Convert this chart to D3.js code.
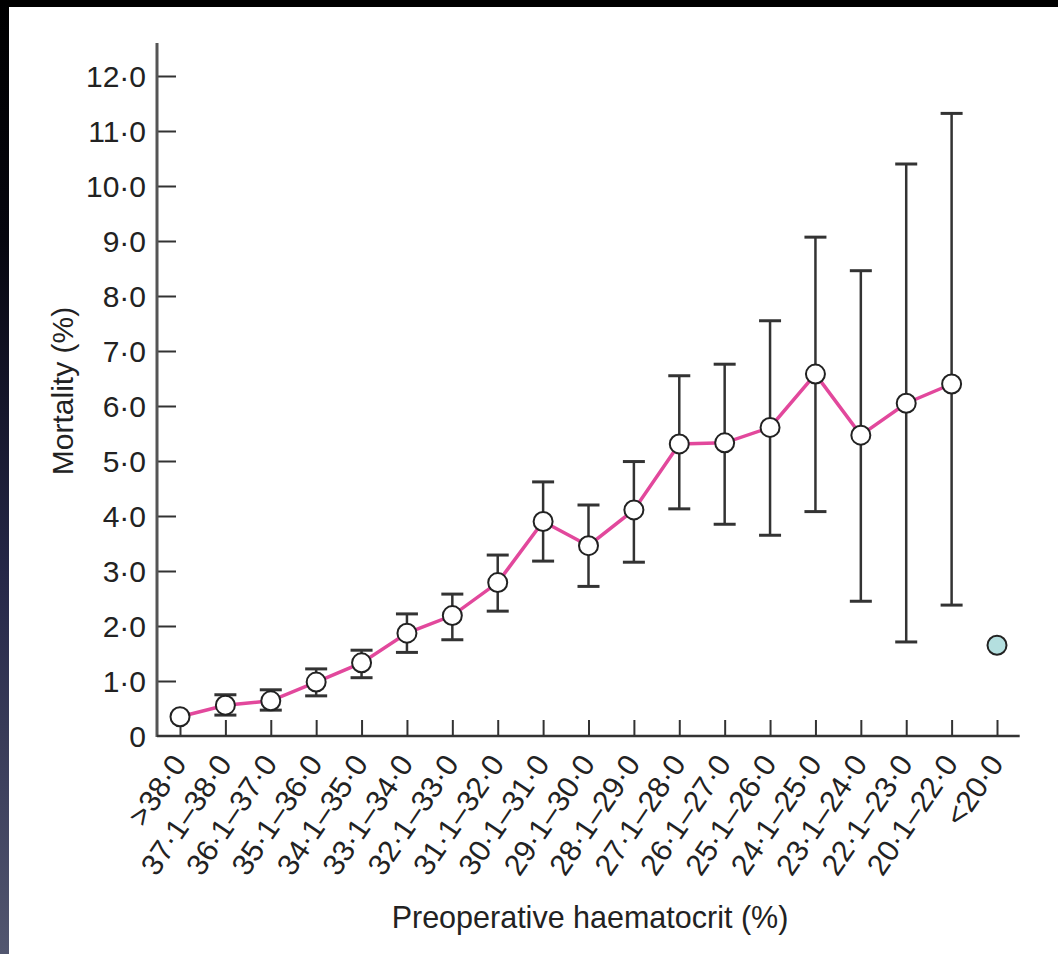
<!DOCTYPE html>
<html>
<head>
<meta charset="utf-8">
<script src="https://cdnjs.cloudflare.com/ajax/libs/d3/7.8.5/d3.min.js"></script>
<style>
  html, body { margin: 0; padding: 0; background: #000; }
  svg { display: block; }
  text { font-family: "Liberation Sans", Arial, Helvetica, sans-serif; fill: #222; }
</style>
</head>
<body>
<svg id="chart"></svg>
<script>
// haematocrit bands, left to right
var categories = [">38·0", "37·1–38·0", "36·1–37·0", "35·1–36·0", "34·1–35·0", "33·1–34·0",
  "32·1–33·0", "31·1–32·0", "30·1–31·0", "29·1–30·0", "28·1–29·0", "27·1–28·0",
  "26·1–27·0", "25·1–26·0", "24·1–25·0", "23·1–24·0", "22·1–23·0", "20·1–22·0", "<20·0"]

var mortality = [0.35, 0.56, 0.64, 0.98, 1.33, 1.87, 2.19, 2.79, 3.90, 3.46, 4.11, 5.31,
  5.33, 5.61, 6.58, 5.47, 6.05, 6.40, 1.65]

// 95% CI (null = no bar drawn)
var lowerCI = [null, 0.38, 0.47, 0.73, 1.06, 1.52, 1.75, 2.27, 3.18, 2.72, 3.16, 4.13,
  3.85, 3.65, 4.08, 2.45, 1.71, 2.38, null]
var upperCI = [null, 0.75, 0.84, 1.22, 1.56, 2.22, 2.58, 3.29, 4.62, 4.20, 4.99, 6.55,
  6.76, 7.55, 9.07, 8.46, 10.40, 11.32, null]

// last band is shown as a lone shaded point, not joined to the line
var joined = [true, true, true, true, true, true, true, true, true, true, true, true,
  true, true, true, true, true, true, false]

var yTicks = [0, 1, 2, 3, 4, 5, 6, 7, 8, 9, 10, 11, 12]

var W = 1058, H = 954

var svg = d3.select("#chart").attr("width", W).attr("height", H)

// page background: black frame, bluish strip on the left
var defs = svg.append("defs")
var grad = defs.append("linearGradient").attr("id", "strip")
  .attr("x1", 0).attr("y1", 0).attr("x2", 0).attr("y2", 1)
grad.append("stop").attr("offset", "0").attr("stop-color", "#000")
grad.append("stop").attr("offset", "0.25").attr("stop-color", "#06060f")
grad.append("stop").attr("offset", "0.6").attr("stop-color", "#252747")
grad.append("stop").attr("offset", "1").attr("stop-color", "#52566f")

svg.append("rect").attr("width", W).attr("height", H).attr("fill", "#000")
svg.append("rect").attr("x", 0).attr("y", 0).attr("width", 9).attr("height", H).attr("fill", "url(#strip)")
svg.append("rect").attr("x", 9).attr("y", 7).attr("width", W - 9).attr("height", H - 7).attr("fill", "#fff")

var x = d3.scalePoint().domain(categories).range([180, 997])
var y = d3.scaleLinear().domain([0, 12]).range([736, 76])

var fmt = function(d) {
  return d === 0 ? "0" : d3.format(".1f")(d).replace(".", "·")
}

// y axis
var yAxis = svg.append("g")
  .attr("transform", "translate(157,0)")
  .call(d3.axisLeft(y).tickValues(yTicks).tickFormat(fmt).tickSize(-19).tickPadding(11))
yAxis.select(".domain").remove()
yAxis.selectAll(".tick line").attr("stroke", "#333").attr("stroke-width", 2)
  .filter(d => d === 0).remove()
yAxis.selectAll(".tick text").attr("font-size", 30).attr("dy", "0.36em").style("fill", "#222")

// x axis
var xAxis = svg.append("g")
  .attr("transform", "translate(0," + y(0) + ")")
  .call(d3.axisBottom(x).tickSize(-16))
xAxis.select(".domain").remove()
xAxis.selectAll(".tick line").attr("stroke", "#333").attr("stroke-width", 2)
xAxis.selectAll(".tick text")
  .attr("font-size", 30)
  .attr("y", null).attr("dy", null)
  .attr("text-anchor", "end")
  .attr("transform", "translate(7,28) rotate(-56)")
  .style("fill", "#222")

// axis lines
var step = x.step()
svg.append("line")
  .attr("x1", 157).attr("x2", 157)
  .attr("y1", y(12.6)).attr("y2", y(0) + 1)
  .attr("stroke", "#555").attr("stroke-width", 3)
svg.append("line")
  .attr("x1", 157).attr("x2", x(categories[categories.length - 1]) + step / 2)
  .attr("y1", y(0)).attr("y2", y(0))
  .attr("stroke", "#333").attr("stroke-width", 2.5)

// axis titles
svg.append("text")
  .attr("x", 590)
  .attr("y", 928)
  .attr("text-anchor", "middle")
  .attr("font-size", 30.5)
  .text("Preoperative haematocrit (%)")

svg.append("text")
  .attr("transform", "translate(73,391) rotate(-90)")
  .attr("text-anchor", "middle")
  .attr("font-size", 30)
  .text("Mortality (%)")

var rows = categories.map((c, i) => ({
  cat: c, val: mortality[i], lo: lowerCI[i], hi: upperCI[i], joined: joined[i]
}))

// error bars
var bars = svg.append("g").selectAll("g")
  .data(rows.filter(d => d.lo !== null))
  .enter().append("g")
  .attr("stroke", "#333")

bars.append("line")
  .attr("x1", d => x(d.cat)).attr("x2", d => x(d.cat))
  .attr("y1", d => y(d.lo)).attr("y2", d => y(d.hi))
  .attr("stroke-width", 2.5)
bars.append("line")
  .attr("x1", d => x(d.cat) - 11).attr("x2", d => x(d.cat) + 11)
  .attr("y1", d => y(d.hi)).attr("y2", d => y(d.hi))
  .attr("stroke-width", 3)
bars.append("line")
  .attr("x1", d => x(d.cat) - 11).attr("x2", d => x(d.cat) + 11)
  .attr("y1", d => y(d.lo)).attr("y2", d => y(d.lo))
  .attr("stroke-width", 3)

// line
var line = d3.line().x(d => x(d.cat)).y(d => y(d.val))
svg.append("path")
  .datum(rows.filter(d => d.joined))
  .attr("d", line)
  .attr("fill", "none")
  .attr("stroke", "#e2489c")
  .attr("stroke-width", 3.5)

// points
svg.append("g").selectAll("circle")
  .data(rows)
  .enter().append("circle")
  .attr("cx", d => x(d.cat))
  .attr("cy", d => y(d.val))
  .attr("r", 9.5)
  .attr("fill", d => d.joined ? "#fff" : "#b4dfdf")
  .attr("stroke", "#222")
  .attr("stroke-width", 2)
</script>
</body>
</html>
